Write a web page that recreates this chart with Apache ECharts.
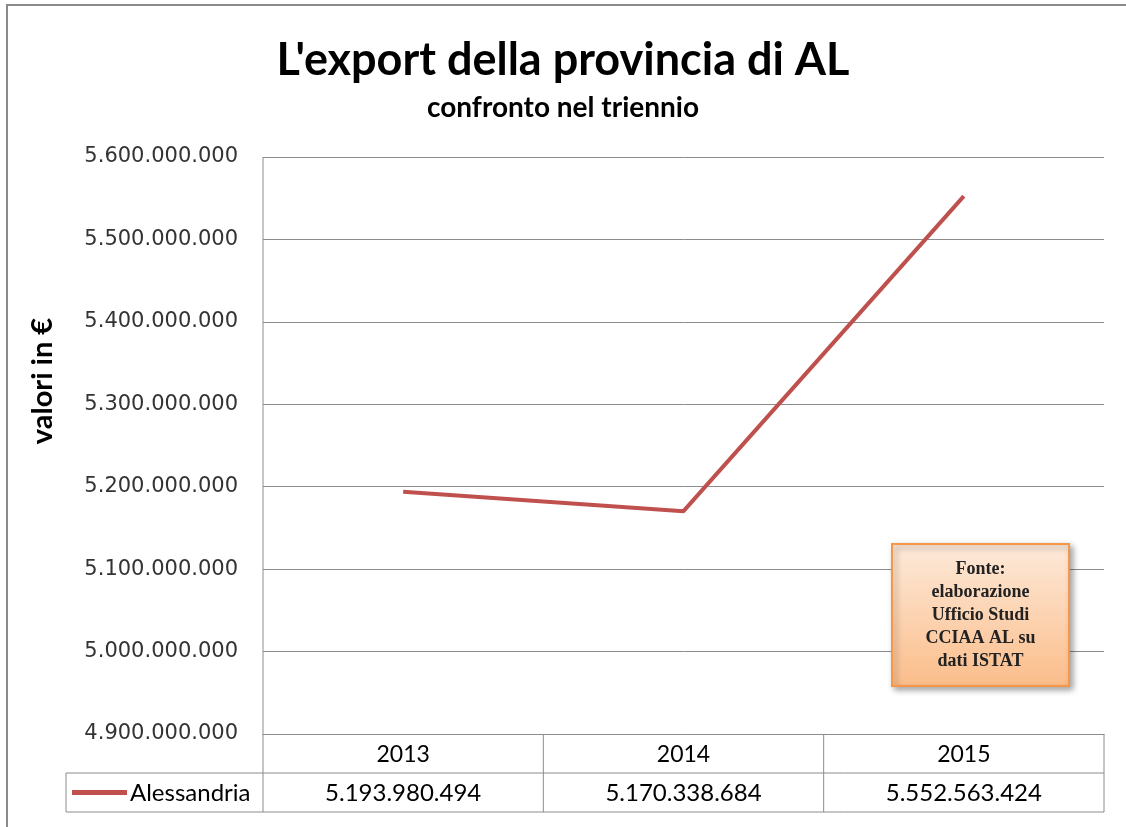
<!DOCTYPE html>
<html>
<head>
<meta charset="utf-8">
<title>L'export della provincia di AL</title>
<script src="https://cdn.jsdelivr.net/npm/echarts@6/dist/echarts.min.js"></script>
<style>
html, body { margin: 0; padding: 0; background: #fff; }
#chart { width: 1126px; height: 827px; }
</style>
</head>
<body>
<div id="chart"></div>
<script>
// dati
var years = ['2013', '2014', '2015'];
var seriesName = 'Alessandria';
var exportValues = [5193980494, 5170338684, 5552563424];
var yTicks = { min: 4900000000, max: 5600000000, step: 100000000 };
var sourceLines = ['Fonte:', 'elaborazione', 'Ufficio Studi', 'CCIAA AL su', 'dati ISTAT'];

var lineColor = '#c0504d';
var gridColor = '#8c8c8c';
var plot = { left: 263, right: 1104, top: 157, bottom: 734 };
var rowH = 39;

function fmtIt(v) {
    var s = Math.round(v).toString();
    return s.replace(/\B(?=(\d{3})+(?!\d))/g, '.');
}

var chart = echarts.init(document.getElementById('chart'));

// tabella dati sotto il grafico
function tableGraphics() {
    var els = [];
    var colW = (plot.right - plot.left) / years.length;
    var y1 = plot.bottom + rowH, y2 = plot.bottom + 2 * rowH;
    var ls = { stroke: gridColor, lineWidth: 1 };
    els.push({ type: 'line', shape: { x1: plot.left, y1: plot.top, x2: plot.left, y2: y2 }, style: ls });
    els.push({ type: 'line', shape: { x1: 66, y1: y1, x2: plot.right, y2: y1 }, style: ls });
    els.push({ type: 'line', shape: { x1: 66, y1: y2, x2: plot.right, y2: y2 }, style: ls });
    els.push({ type: 'line', shape: { x1: 66, y1: y1, x2: 66, y2: y2 }, style: ls });
    for (var i = 0; i < years.length; i++) {
        var xr = plot.left + colW * (i + 1);
        els.push({ type: 'line', shape: { x1: xr, y1: plot.bottom, x2: xr, y2: y2 }, style: ls });
        var cx = plot.left + colW * (i + 0.5);
        els.push({ type: 'text', x: cx, y: plot.bottom + rowH / 2 + 1,
            style: { text: years[i], fontFamily: 'Lato', fontSize: 23, fill: '#000', align: 'center', verticalAlign: 'middle' } });
        els.push({ type: 'text', x: cx, y: y1 + rowH / 2 + 1,
            style: { text: fmtIt(exportValues[i]), fontFamily: 'Lato', fontSize: 24, fill: '#000', align: 'center', verticalAlign: 'middle' } });
    }
    els.push({ type: 'line', shape: { x1: 72, y1: y1 + rowH / 2, x2: 127, y2: y1 + rowH / 2 },
        style: { stroke: lineColor, lineWidth: 5 } });
    els.push({ type: 'text', x: 130, y: y1 + rowH / 2 + 1,
        style: { text: seriesName, fontFamily: 'Lato', fontSize: 24, fill: '#000', align: 'left', verticalAlign: 'middle' } });
    return els;
}

var option = {
    animation: false,
    backgroundColor: '#fff',
    title: {
        text: "L'export della provincia di AL",
        subtext: 'confronto nel triennio',
        left: 'center',
        top: 33,
        itemGap: 11,
        padding: [5, 0, 5, 12],
        textStyle: { fontFamily: 'Lato', fontWeight: 'bold', fontSize: 45, color: '#000' },
        subtextStyle: { fontFamily: 'Lato', fontWeight: 'bold', fontSize: 28, color: '#000' }
    },
    grid: { left: plot.left, right: 1126 - plot.right, top: plot.top, bottom: 827 - plot.bottom },
    xAxis: {
        type: 'category',
        data: years,
        boundaryGap: true,
        axisLine: { lineStyle: { color: gridColor, width: 1 } },
        axisTick: { show: false },
        axisLabel: { show: false }
    },
    yAxis: {
        type: 'value',
        min: yTicks.min,
        max: yTicks.max,
        interval: yTicks.step,
        axisLine: { show: false },
        axisTick: { show: false },
        axisLabel: {
            margin: 25,
            fontFamily: 'DejaVu Sans',
            fontSize: 21,
            color: '#333',
            formatter: fmtIt
        },
        splitLine: { lineStyle: { color: gridColor, width: 1 } }
    },
    series: [{
        name: seriesName,
        type: 'line',
        data: exportValues,
        symbol: 'none',
        lineStyle: { color: lineColor, width: 4 }
    }],
    graphic: [
        { type: 'rect', shape: { x: 7, y: 5, width: 1140, height: 840 }, silent: true,
          style: { fill: 'none', stroke: '#8a8a8a', lineWidth: 2 } },
        { type: 'text', x: 43, y: 381, rotation: Math.PI / 2,
          style: { text: 'valori in €', fontFamily: 'Lato', fontWeight: 'bold', fontSize: 29, fill: '#000',
              align: 'center', verticalAlign: 'middle' } },
        {
            type: 'group', left: 891, top: 543, z: 100,
            children: [
                { type: 'rect', z: 100, shape: { x: 0, y: 0, width: 177, height: 142 },
                  style: {
                      fill: { type: 'linear', x: 0, y: 0, x2: 0, y2: 1,
                          colorStops: [{ offset: 0, color: '#fdeada' }, { offset: 1, color: '#fbbd8a' }] },
                      stroke: '#f79646', lineWidth: 2,
                      shadowBlur: 6, shadowOffsetX: 3, shadowOffsetY: 3, shadowColor: 'rgba(0,0,0,0.35)'
                  } },
                { type: 'text', z: 101, x: 88.5, y: 71,
                  style: { text: sourceLines.join('\n'), fontFamily: 'Liberation Serif', fontWeight: 'bold',
                      fontSize: 18, lineHeight: 23, fill: '#222', align: 'center', verticalAlign: 'middle' } }
            ]
        }
    ].concat(tableGraphics())
};

chart.setOption(option);
</script>
</body>
</html>
